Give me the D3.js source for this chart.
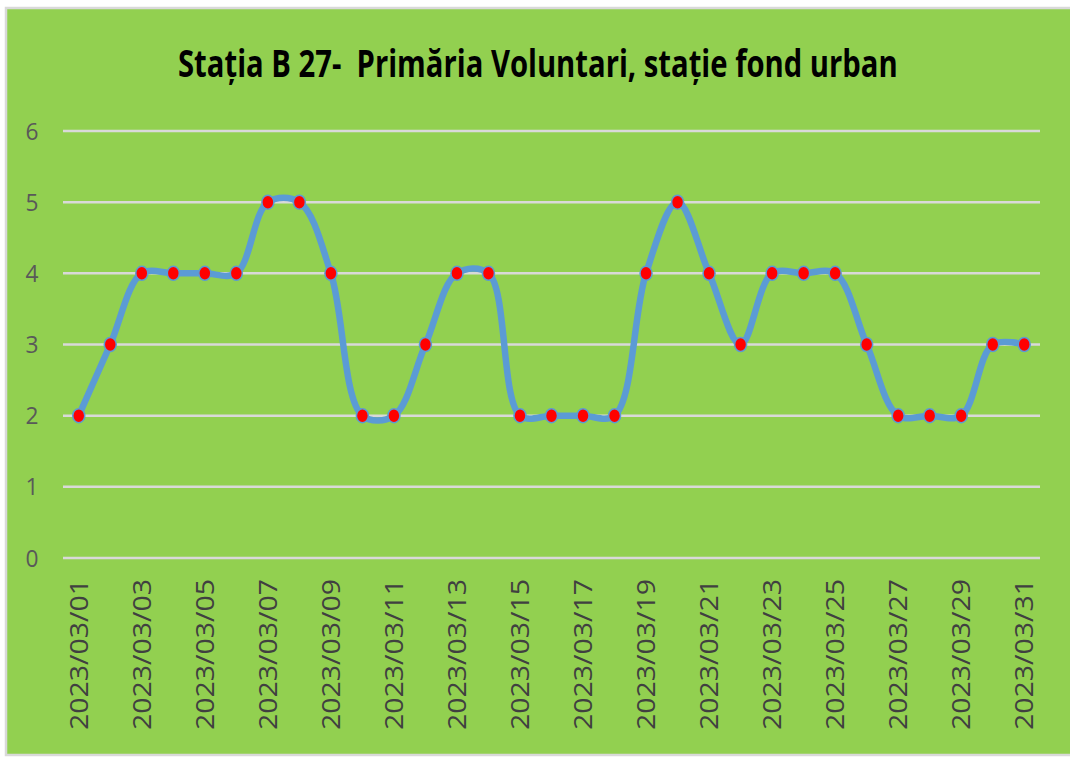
<!DOCTYPE html>
<html>
<head>
<meta charset="utf-8">
<script src="https://cdn.jsdelivr.net/npm/d3@7"></script>
<style>
  body { margin: 0; background: #fff; }
  text { font-family: "Open Sans", "Noto Sans", sans-serif; }
</style>
</head>
<body>
<div id="chart"></div>
<script>
var days = ["2023/03/01","2023/03/02","2023/03/03","2023/03/04","2023/03/05","2023/03/06",
    "2023/03/07","2023/03/08","2023/03/09","2023/03/10","2023/03/11","2023/03/12",
    "2023/03/13","2023/03/14","2023/03/15","2023/03/16","2023/03/17","2023/03/18",
    "2023/03/19","2023/03/20","2023/03/21","2023/03/22","2023/03/23","2023/03/24",
    "2023/03/25","2023/03/26","2023/03/27","2023/03/28","2023/03/29","2023/03/30","2023/03/31"];
var values = [2,3,4,4,4,4,5,5,4,2,2,3,4,4,2,2,2,2,4,5,4,3,4,4,4,3,2,2,2,3,3];
var yTicks = [0,1,2,3,4,5,6];
var title = "Stația B 27-  Primăria Voluntari, stație fond urban";

var width = 1070, height = 757;
var svg = d3.select("#chart").append("svg")
    .attr("width", width)
    .attr("height", height);

// chart area background + border
svg.append("rect")
    .attr("x", 6).attr("y", 8)
    .attr("width", 1070).attr("height", 747)
    .attr("fill", "#92d050")
    .attr("stroke", "#d9d9d9")
    .attr("stroke-width", 2.5);

// the original is narrow (Calibri), so squeeze the title to its width
var titleG = svg.append("g");
var titleText = titleG.append("text")
    .attr("x", 0).attr("y", 0)
    .attr("xml:space", "preserve")
    .style("white-space", "pre")
    .style("font-size", "38px")
    .style("font-weight", "bold")
    .attr("fill", "#000")
    .text(title);
var tw = titleText.node().getComputedTextLength();
titleG.attr("transform", "translate(178,77) scale(" + (720 / tw) + ",1)");

var x = d3.scaleBand().domain(days).range([63, 1040]);
var y = d3.scaleLinear().domain([0, 6]).range([558, 131]);

var grid = svg.append("g");
yTicks.forEach(function(t) {
    grid.append("line")
        .attr("x1", 63).attr("x2", 1040)
        .attr("y1", y(t)).attr("y2", y(t))
        .attr("stroke", "#d9d9d9")
        .attr("stroke-width", 2.5);
    grid.append("text")
        .attr("x", 32).attr("y", y(t) + 8.5)
        .attr("text-anchor", "middle")
        .attr("textLength", 13)
        .attr("lengthAdjust", "spacingAndGlyphs")
        .style("font-size", "24px")
        .attr("fill", "#595959")
        .text(t);
});

var xLabels = svg.append("g");
days.forEach(function(d, i) {
    if (i % 2 !== 0) return;
    var cx = x(d) + x.bandwidth() / 2;
    xLabels.append("text")
        .attr("transform", "translate(" + (cx + 9) + ",579) rotate(-90)")
        .attr("text-anchor", "end")
        .attr("textLength", 151)
        .attr("lengthAdjust", "spacingAndGlyphs")
        .style("font-size", "25px")
        .attr("fill", "#404040")
        .text(d);
});

var line = d3.line()
    .x(function(d, i) { return x(days[i]) + x.bandwidth() / 2; })
    .y(function(d) { return y(d); })
    .curve(d3.curveCatmullRom.alpha(0.5));

svg.append("path")
    .datum(values)
    .attr("d", line)
    .attr("fill", "none")
    .attr("stroke", "#5b9bd5")
    .attr("stroke-width", 6.5)
    .attr("stroke-linejoin", "round");

svg.append("g").selectAll("ellipse")
    .data(values)
    .enter().append("ellipse")
    .attr("cx", function(d, i) { return x(days[i]) + x.bandwidth() / 2; })
    .attr("cy", function(d) { return y(d); })
    .attr("rx", 6)
    .attr("ry", 7)
    .attr("fill", "#ff0000")
    .attr("stroke", "#5b9bd5")
    .attr("stroke-width", 1.5);
</script>
</body>
</html>
